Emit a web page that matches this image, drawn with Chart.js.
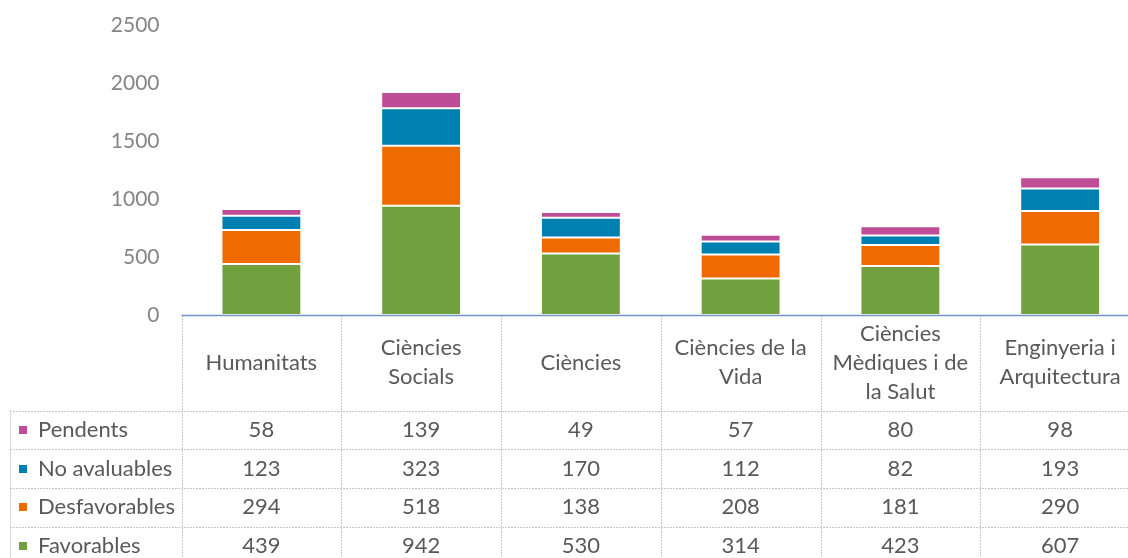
<!DOCTYPE html>
<html>
<head>
<meta charset="utf-8">
<script src="https://cdn.jsdelivr.net/npm/chart.js@4.4.0/dist/chart.umd.min.js"></script>
<style>
	html, body { margin:0; padding:0; background:#fff; overflow:hidden; }
	.chart-outer { position:relative; width:1140px; height:558px; }
</style>
</head>
<body>
<div class="chart-outer"><canvas class="canvas-chart" id="canvas-chart"></canvas></div>
<script>
/** Chart data **/
const categories = [
	['Humanitats'],
	['Ciències', 'Socials'],
	['Ciències'],
	['Ciències de la', 'Vida'],
	['Ciències', 'Mèdiques i de', 'la Salut'],
	['Enginyeria i', 'Arquitectura']
];
const favorables = [439, 942, 530, 314, 423, 607];
const desfavorables = [294, 518, 138, 208, 181, 290];
const no_avaluables = [123, 323, 170, 112, 82, 193];
const pendents = [58, 139, 49, 57, 80, 98];
const y_ticks = [0, 500, 1000, 1500, 2000, 2500];

const font_family = 'Lato, "Open Sans", sans-serif';
const text_color = '#595959';

/** Data table drawn under the bars **/
const data_table = {
	id: 'data_table',
	afterDraw: function(chart){
		const ctx = chart.ctx,
		area = chart.chartArea,
		top = area.bottom,
		header_h = 95.5,
		row_h = 38.7,
		table_left = 10,
		col_w = (area.right - area.left) / categories.length,
		rows = chart.data.datasets.slice().reverse(),
		header_bottom = top + header_h;

		ctx.save();
		// grid lines
		ctx.strokeStyle = '#c9c9c9';
		ctx.lineWidth = 1;
		ctx.setLineDash([2, 1]);
		ctx.beginPath();
		for( let i = 0; i <= categories.length; i++ ){
			const x = Math.round(area.left + i * col_w) + 0.5;
			ctx.moveTo(x, top);
			ctx.lineTo(x, chart.height);
		}
		ctx.moveTo(table_left + 0.5, header_bottom);
		ctx.lineTo(table_left + 0.5, chart.height);
		for( let k = 0; k < rows.length; k++ ){
			const y = Math.round(header_bottom + k * row_h) + 0.5;
			ctx.moveTo(table_left, y);
			ctx.lineTo(area.right, y);
		}
		ctx.stroke();
		ctx.setLineDash([]);

		// axis line
		ctx.strokeStyle = '#7393c6';
		ctx.lineWidth = 1.5;
		ctx.beginPath();
		ctx.moveTo(area.left, top + 0.5);
		ctx.lineTo(area.right, top + 0.5);
		ctx.stroke();

		// header labels
		ctx.font = '22px ' + font_family;
		ctx.fillStyle = text_color;
		ctx.textAlign = 'center';
		ctx.textBaseline = 'middle';
		const line_h = 29;
		categories.forEach(function(lines, i){
			const cx = chart.scales.x.getPixelForValue(i),
			cy = top + header_h / 2 - (lines.length - 1) * line_h / 2;
			lines.forEach(function(line, j){
				ctx.fillText(line, cx, cy + j * line_h);
			});
		});

		// value rows
		rows.forEach(function(ds, k){
			const cy = header_bottom + k * row_h + row_h / 2;
			ctx.fillStyle = ds.backgroundColor;
			ctx.fillRect(19, Math.round(cy - 4), 8, 8);
			ctx.fillStyle = text_color;
			ctx.textAlign = 'left';
			ctx.fillText(ds.label, 38, cy);
			ctx.textAlign = 'center';
			ds.data.forEach(function(v, i){
				ctx.fillText(String(v), chart.scales.x.getPixelForValue(i), cy);
			});
		});
		ctx.restore();
	}
};

const data = {
	labels: categories,
	datasets: [
		{ label: 'Favorables', data: favorables, backgroundColor: '#70a13e' },
		{ label: 'Desfavorables', data: desfavorables, backgroundColor: '#ef6a00' },
		{ label: 'No avaluables', data: no_avaluables, backgroundColor: '#0080b1' },
		{ label: 'Pendents', data: pendents, backgroundColor: '#bf4c97' }
	].map(function(ds){
		return Object.assign(ds, {
			borderColor: '#ffffff',
			borderWidth: 1,
			borderSkipped: false,
			barPercentage: 0.5,
			categoryPercentage: 1.0
		});
	})
};

const config = {
	type: 'bar',
	data: data,
	options: {
		responsive: true,
		maintainAspectRatio: false,
		animation: false,
		layout: { padding: { top: 25, bottom: 243, left: 0, right: 0 } },
		plugins: {
			legend: { display: false },
			tooltip: { enabled: false }
		},
		scales: {
			x: { stacked: true, display: false },
			y: {
				stacked: true,
				min: 0,
				max: 2500,
				afterBuildTicks: function(scale){
					scale.ticks = y_ticks.map(function(v){ return { value: v }; });
				},
				afterFit: function(scale){
					scale.width = 181.5;
					scale.paddingTop = 0;
					scale.paddingBottom = 0;
				},
				grid: { display: false, drawTicks: false },
				border: { display: false },
				ticks: {
					padding: 22,
					color: '#858585',
					font: { family: font_family, size: 21 },
					callback: function(v){ return String(v); }
				}
			}
		}
	},
	plugins: [data_table]
};

new Chart(document.getElementById('canvas-chart'), config);
</script>
</body>
</html>
